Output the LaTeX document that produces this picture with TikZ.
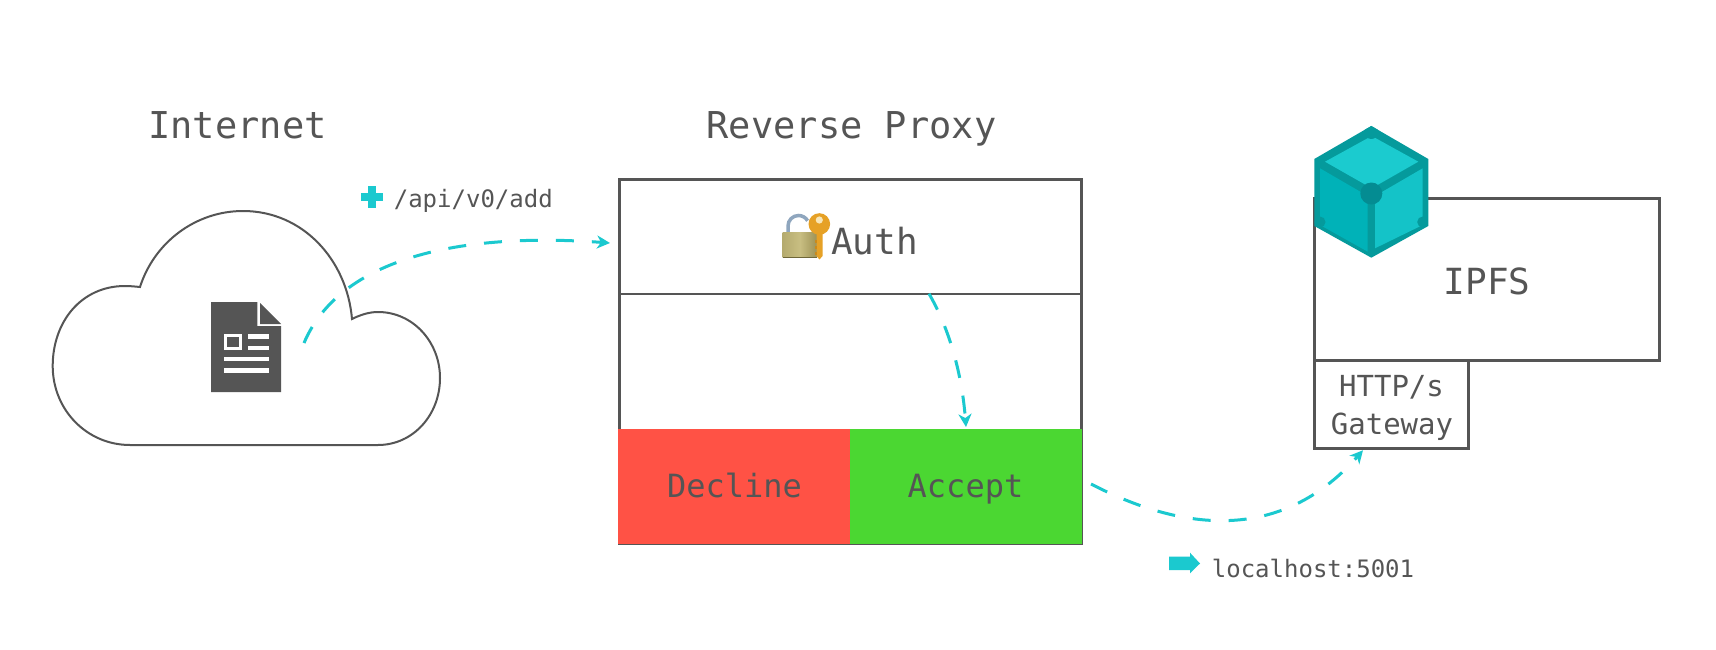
\documentclass[tikz,border=0pt]{standalone}
\usepackage{fontspec}
\setmainfont{DejaVu Sans Mono}
\usetikzlibrary{arrows.meta}
\definecolor{ink}{HTML}{555555}
\definecolor{teal}{HTML}{1BC9CF}
\definecolor{declinered}{HTML}{FF5245}
\definecolor{acceptgreen}{HTML}{4BD732}
\definecolor{cubeedge}{HTML}{059A9C}
\definecolor{cubeknob}{HTML}{048C92}
\definecolor{cubetop}{HTML}{1BCBCF}
\definecolor{cubeleft}{HTML}{00B2B8}
\definecolor{cuberight}{HTML}{14C3C8}
\definecolor{keygold}{HTML}{E6A126}
\definecolor{keydark}{HTML}{C98A1C}
\definecolor{lockleft}{HTML}{B5AB6E}
\definecolor{lockmid}{HTML}{C8BE82}
\definecolor{lockright}{HTML}{9C9155}
\definecolor{lockbase}{HTML}{6F6738}
\definecolor{shackle}{HTML}{8FA6BE}
\definecolor{keyhole}{HTML}{F8E6B8}
\tikzset{
  boxnode/.style={rectangle,inner sep=0pt,outer sep=0pt},
  framebox/.style={boxnode,draw=ink,line width=3pt},
  txt/.style={anchor=base,text=ink,inner sep=0pt,outer sep=0pt},
  flow/.style={draw=teal,line width=3pt,dash pattern=on 18pt off 18pt,-{Stealth[length=13pt,width=13pt,inset=4pt]}},
}
\newcommand{\fsz}[1]{\fontsize{#1}{#1}\selectfont}
\begin{document}
\begin{tikzpicture}[x=1pt,y=-1pt]
\useasboundingbox (0,0) rectangle (1716,650);
\fill[white] (0,0) rectangle (1716,650);

% titles
\node[txt] (internetTitle) at (237.5,139) {\fsz{37}Internet};
\node[txt] (proxyTitle) at (851.5,139) {\fsz{37}Reverse Proxy};

% cloud
\draw[ink,line width=2pt,line join=miter]
  (130,445) .. controls (87,445) and (52.7,410) .. (52.7,366)
  .. controls (52.7,322) and (81,286) .. (125,286)
  .. controls (130,286) and (135,286.5) .. (140,287)
  .. controls (154.4,242) and (196,211) .. (243,211)
  .. controls (303,211) and (347,260) .. (352,319)
  .. controls (360,315) and (369,312) .. (378,312)
  .. controls (413,312) and (440,342) .. (440,378)
  .. controls (440,415) and (413,445) .. (378,445) -- cycle;

% document icon
\node[boxnode,minimum width=70pt,minimum height=90pt] (doc) at (246,347) {};
\fill[ink] (211,302) -- (257.3,302) -- (257.3,326) -- (281,326) -- (281,392) -- (211,392) -- cycle;
\fill[ink] (260,303) -- (281,324) -- (260,324) -- cycle;
\draw[white,line width=3pt] (225.5,335.8) rectangle (240.5,348.5);
\fill[white] (248,334.3) rectangle (269,339);
\fill[white] (248,345.7) rectangle (269,350);
\fill[white] (224,356.7) rectangle (269,361);
\fill[white] (224,368.3) rectangle (269,372.7);

% plus label
\fill[teal] (368.3,186) rectangle (375.7,208);
\fill[teal] (361,193.3) rectangle (383,200.5);
\node[txt] (apiLabel) at (473.3,207) {\fsz{24}/api/v0/add};

% proxy
\node[framebox,minimum width=462pt,minimum height=363.2pt] (proxy) at (850,361.4) {};
\node[boxnode,minimum width=462pt,minimum height=114pt] (auth) at (850,236.7) {};
\draw[ink,line width=2pt] (auth.south west) -- (auth.south east);
\node[boxnode,fill=declinered,minimum width=232pt,minimum height=115pt] (decline) at (734,486.5) {};
\node[boxnode,fill=acceptgreen,minimum width=232pt,minimum height=115pt] (accept) at (966,486.5) {};
\node[txt] (authText) at (874.5,254) {\fsz{36}Auth};
\node[txt] (declineText) at (734.5,497) {\fsz{32}Decline};
\node[txt] (acceptText) at (965.5,497) {\fsz{32}Accept};

% lock and key
\draw[shackle,line width=3.5pt] (788,233) -- (788,226) arc[start angle=180,end angle=30,radius=10.5pt];
\shade[left color=lockleft,right color=lockright,middle color=lockmid] (782.7,232.3) rectangle (817,257.3);
\fill[lockbase] (782.7,256.8) rectangle (817,258.2);
\fill[keygold] (819.3,224) circle[radius=10.8];
\fill[keygold] (816.5,232) -- (822.5,232) -- (822.5,256) -- (819.5,259.5) -- (816.5,256) -- cycle;
\fill[keydark] (814.5,240) rectangle (817,243);
\fill[keydark] (814.5,246) rectangle (817,249);
\fill[keydark] (814.5,252) rectangle (817,255);
\fill[keyhole] (819.3,220) circle[radius=3.6];

% IPFS
\node[framebox,minimum width=345pt,minimum height=162pt] (ipfs) at (1487,279.8) {};
\node[framebox,minimum width=154pt,minimum height=87.5pt] (gateway) at (1391.5,404.5) {};
\node[txt] (ipfsText) at (1487,294.3) {\fsz{36}IPFS};
\node[txt] (httpText) at (1391.5,396) {\fsz{29}HTTP/s};
\node[txt] (gatewayText) at (1392,434) {\fsz{29}Gateway};

% cube
\fill[cubeedge] (1371.3,126) -- (1428.3,159) -- (1428.3,226) -- (1371.3,257.7) -- (1314.3,226) -- (1314.3,159) -- cycle;
\fill[cubetop] (1371.7,136) -- (1418.3,161.7) -- (1371.7,188.3) -- (1325,161.7) -- cycle;
\fill[cubeleft] (1320,168.3) -- (1367.7,196) -- (1367.7,251.7) -- (1320,225) -- cycle;
\fill[cuberight] (1375,196) -- (1422.7,168.3) -- (1422.7,225) -- (1375,248.3) -- cycle;
\fill[cubeknob] (1371.3,193.5) circle[radius=11];
\begin{scope}
\clip (1371.3,126) -- (1428.3,159) -- (1428.3,226) -- (1371.3,257.7) -- (1314.3,226) -- (1314.3,159) -- cycle;
\fill[cubeedge] (1371.3,132) circle[radius=7];
\fill[cubeedge] (1320,222) circle[radius=5.5];
\fill[cubeedge] (1422.7,222) circle[radius=5.5];
\end{scope}

% connectors
\draw[flow] ([xshift=23pt,yshift=4pt]doc.east) .. controls (340,258) and (460,232) .. ([xshift=-9pt,yshift=-6.3pt]auth.west);
\draw[flow] ([xshift=79pt]auth.south) .. controls (950,330) and (962,375) .. ([yshift=2pt]accept.north);
\draw[flow] ([xshift=9pt,yshift=2.5pt]accept.east) .. controls (1170,525) and (1275,550) .. ([xshift=-28.5pt,yshift=-2pt]gateway.south);

% localhost label
\fill[teal] (1169,556.7) -- (1190,556.7) -- (1190,552.7) -- (1200,563.5) -- (1190,573.3) -- (1190,570) -- (1169,570) -- cycle;
\node[txt] (hostLabel) at (1313,577) {\fsz{24}localhost:5001};
\end{tikzpicture}
\end{document}
